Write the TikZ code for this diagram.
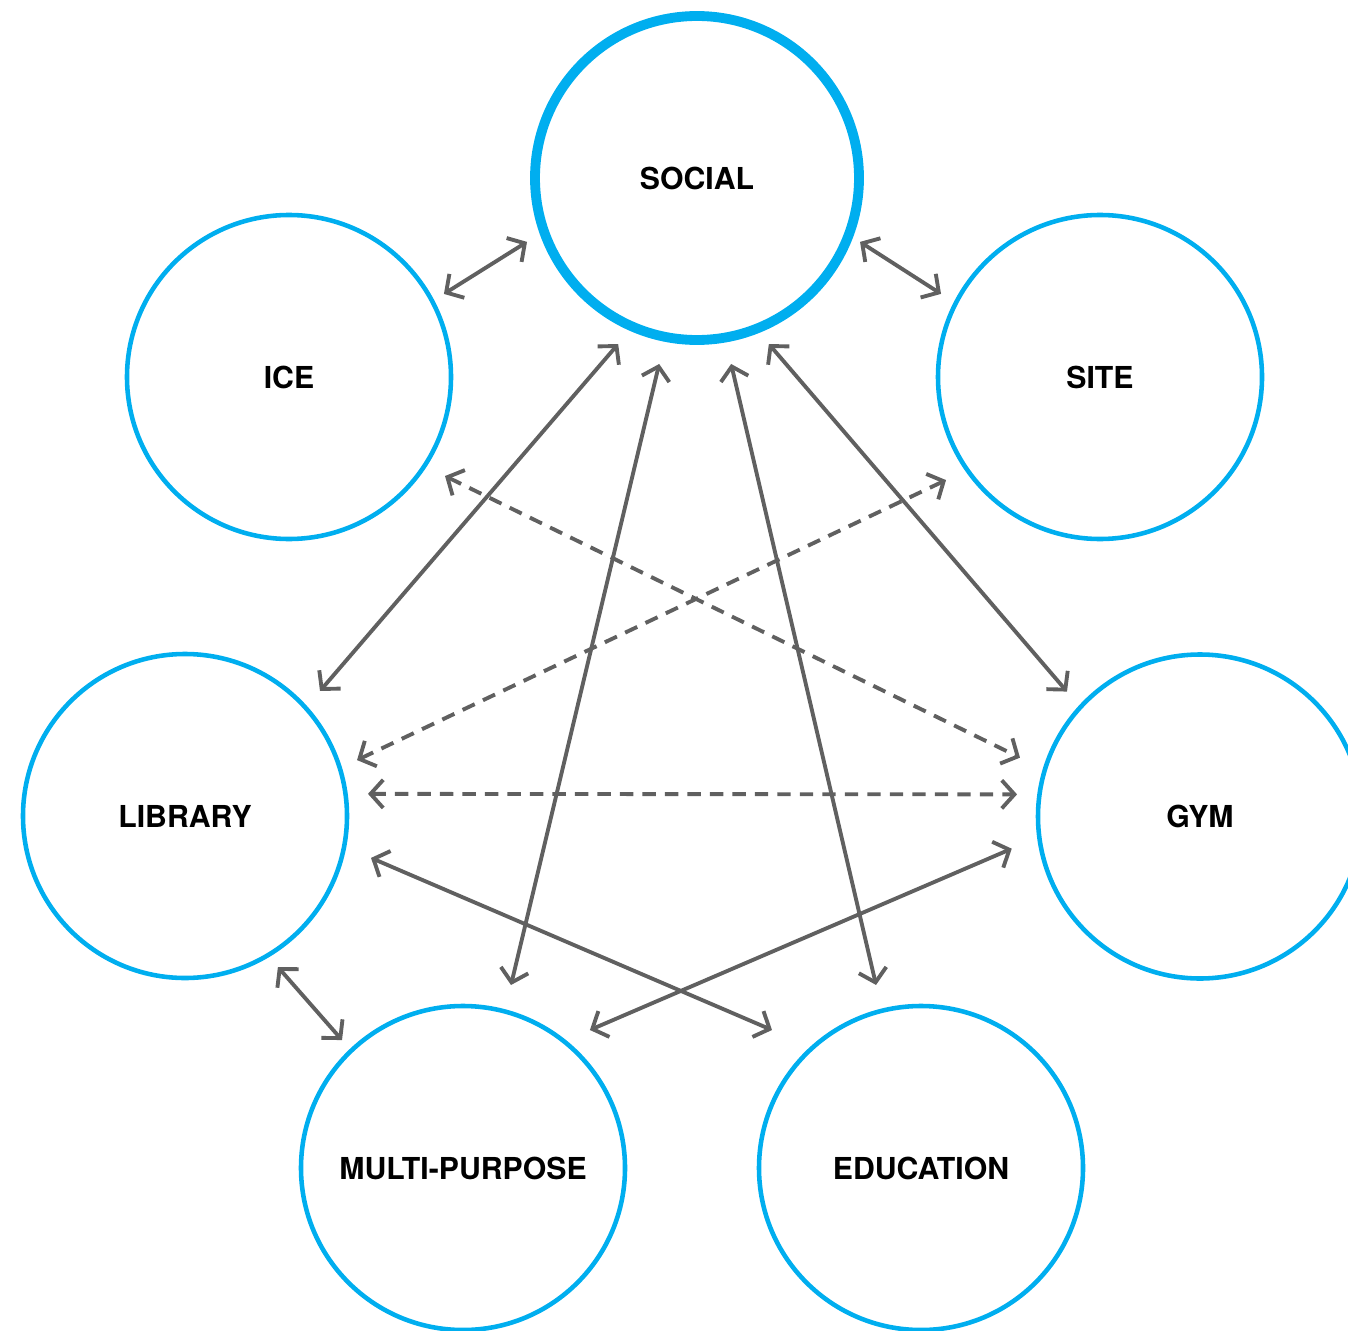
\documentclass[tikz,border=0pt]{standalone}
\usepackage{fontspec}
\setmainfont{TeX Gyre Heros}
\usetikzlibrary{arrows.meta,calc}
\definecolor{ringblue}{RGB}{0,174,239}
\definecolor{linkgray}{RGB}{96,96,96}
\newcommand{\lblfont}{\fontsize{8.6}{10}\selectfont\bfseries}
\begin{document}
\begin{tikzpicture}[
  hub/.style={circle, draw=ringblue, line width=1.3pt, minimum size=3.24cm, inner sep=0pt, font=\lblfont, text=black},
  mainhub/.style={hub, line width=2.8pt},
  link/.style={draw=linkgray, line width=1.1pt, {Straight Barb[length=3.6pt,width=8pt]}-{Straight Barb[length=3.6pt,width=8pt]}},
  dlink/.style={link, dash pattern=on 3.8pt off 2.6pt}
]
\useasboundingbox (0,0) rectangle (13.48,-13.31);
\node[mainhub] (social) at (6.97,-1.78) {SOCIAL};
\node[hub] (ice) at (2.89,-3.77) {ICE};
\node[hub] (site) at (11.00,-3.77) {SITE};
\node[hub] (library) at (1.85,-8.16) {LIBRARY};
\node[hub] (gym) at (12.00,-8.165) {GYM};
\node[hub] (multi) at (4.63,-11.68) {MULTI-PURPOSE};
\node[hub] (edu) at (9.21,-11.68) {EDUCATION};

% solid connectors
\draw[link] ($(ice)+(28.2:1.758)$) -- ($(social)+(200.6:1.816)$);
\draw[link] ($(social)+(-21.4:1.751)$) -- ($(site)+(152.4:1.794)$);
\draw[link] ($(social)+(244.6:1.838)$) -- ($(library)+(42.8:1.840)$);
\draw[link] ($(social)+(258.5:1.898)$) -- ($(multi)+(75.3:1.892)$);
\draw[link] ($(social)+(280.4:1.891)$) -- ($(edu)+(103.8:1.885)$);
\draw[link] ($(social)+(293.4:1.809)$) -- ($(gym)+(136.8:1.825)$);
\draw[link] ($(library)+(-12.7:1.907)$) -- ($(edu)+(137.2:2.031)$);
\draw[link] ($(gym)+(189.7:1.910)$) -- ($(multi)+(47.4:1.875)$);
\draw[link] ($(library)+(-58.4:1.773)$) -- ($(multi)+(133.4:1.761)$);

% dashed connectors
\draw[dlink] ($(ice)+(-32.4:1.848)$) -- ($(gym)+(161.9:1.894)$);
\draw[dlink] ($(site)+(213.8:1.853)$) -- ($(library)+(18.0:1.809)$);
\draw[dlink] ($(library)+(6.9:1.843)$) -- ($(gym)+(173.1:1.843)$);
\end{tikzpicture}
\end{document}
